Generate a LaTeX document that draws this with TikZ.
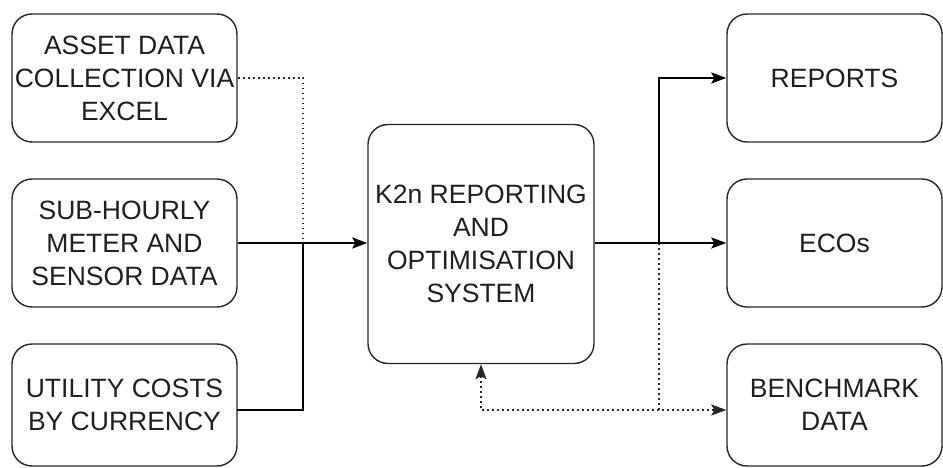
\documentclass[tikz,border=0pt]{standalone}
\usepackage{fontspec}
\setmainfont{Liberation Sans}
\usetikzlibrary{arrows.meta}
\begin{document}
\begin{tikzpicture}[x=1pt,y=-1pt,
  box/.style={draw=black!85, line width=1.4pt, rounded corners=20pt, align=center,
    font=\fontsize{26.5}{33}\selectfont, text=black!88, inner sep=0pt},
  conn/.style={draw=black, line width=2.3pt},
  dotline/.style={draw=black!85, line width=2.2pt, dash pattern=on 1.8pt off 3.2pt},
  tip/.style={-{Stealth[length=15pt,width=11pt,inset=3pt]}}
]
\useasboundingbox (0,0) rectangle (943,468);
\node[box, minimum width=225pt, minimum height=128pt] (b1) at (124.5,78) {ASSET DATA\\COLLECTION VIA\\EXCEL};
\node[box, minimum width=225pt, minimum height=128pt] (b2) at (124.5,243) {SUB-HOURLY\\METER AND\\SENSOR DATA};
\node[box, minimum width=225pt, minimum height=122pt] (b3) at (124.5,405) {UTILITY COSTS\\BY CURRENCY};
\node[box, minimum width=226pt, minimum height=239pt] (c) at (481,244) {K2n REPORTING\\AND\\OPTIMISATION\\SYSTEM};
\node[box, minimum width=215pt, minimum height=128pt] (r1) at (834.5,78) {REPORTS};
\node[box, minimum width=215pt, minimum height=128pt] (r2) at (834.5,243) {ECOs};
\node[box, minimum width=215pt, minimum height=122pt] (r3) at (834.5,405) {BENCHMARK\\DATA};

\coordinate (j1) at (303,243);
\coordinate (j2) at (659,243);
\coordinate (j3) at (659,410);
\coordinate (a3) at (237,410);

\draw[dotline] (b1.east) -| (j1);
\draw[conn] (a3) -| (j1);
\draw[conn, tip] (b2.east) -- (b2.east -| c.west);
\draw[conn, tip] (c.east |- j2) -- (j2 -| r2.west);
\draw[conn, tip] (j2) |- (r1.west);
\draw[dotline, tip] (j2) -- (j3) -- (j3 -| r3.west);
\draw[dotline, tip] (j3) -| (c.south);
\end{tikzpicture}
\end{document}
